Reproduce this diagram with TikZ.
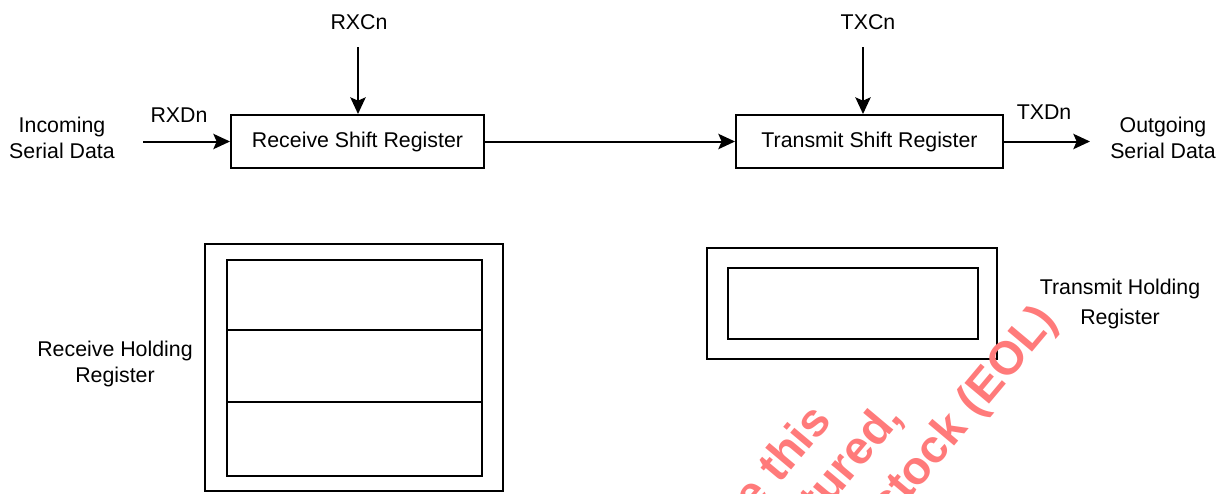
\documentclass[tikz,border=0pt]{standalone}
\usepackage{fontspec}
\setmainfont{Liberation Sans}
\usetikzlibrary{arrows.meta}
\definecolor{wm}{RGB}{255,122,122}
\tikzset{
  box/.style={draw, line width=1.5pt, inner sep=0pt, font=\fontsize{16}{20}\selectfont},
  lbl/.style={inner sep=0pt, align=center, font=\fontsize{16}{20}\selectfont},
  arr/.style={line width=1.5pt, -{Stealth[length=12.5pt,width=11.5pt,inset=2.5pt]}},
  reg/.style={draw, line width=1.5pt},
  wmark/.style={inner sep=0pt, anchor=base east, rotate=50, text=wm, font=\fontsize{35}{40}\selectfont\bfseries}
}
\begin{document}
\begin{tikzpicture}[x=0.75pt,y=-0.75pt]
\useasboundingbox (0,0) rectangle (1223,493);
% shift registers
\node[box, minimum width=189.75pt, minimum height=39.75pt] (rsr) at (357.5,141.5) {Receive Shift Register};
\node[box, minimum width=200.25pt, minimum height=39.75pt] (tsr) at (869.5,141.5) {Transmit Shift Register};
% labels
\node[lbl] (incoming) at (62,138) {Incoming\\Serial Data};
\node[lbl] (outgoing) at (1163,138) {Outgoing\\Serial Data};
\node[lbl] (rxdn) at (179,115) {RXDn};
\node[lbl] (txdn) at (1044,112) {TXDn};
\node[lbl] (rxcn) at (359,22) {RXCn};
\node[lbl] (txcn) at (868,22) {TXCn};
\node[lbl] (rhrl) at (115,364) {Receive Holding\\Register};
\node[lbl, font=\fontsize{16}{23}\selectfont] (thrl) at (1120,304) {Transmit Holding\\Register};
% connectors
\coordinate (rxin) at (143,141.5);
\coordinate (txout) at (1090,141.5);
\coordinate (rxclk) at (358,47);
\coordinate (txclk) at (863,47);
\draw[arr] (rxin) -- (rsr.west);
\draw[arr] (rsr.east) -- (tsr.west);
\draw[arr] (tsr.east) -- (txout);
\draw[arr] (rxclk) -- (rxclk |- rsr.north);
\draw[arr] (txclk) -- (txclk |- tsr.north);
% receive holding register
\draw[reg] (205,244) rectangle (503,491);
\draw[reg] (227,260) rectangle (482,476);
\draw[reg] (227,330) -- (482,330);
\draw[reg] (227,402) -- (482,402);
% transmit holding register
\draw[reg] (707,248) rectangle (997,359);
\draw[reg] (728,268) rectangle (978,339);
% watermark fragments
\begin{scope}
\clip (0,0) rectangle (1223,493);
\node[wmark] (wm1) at (833,421) {e this};
\node[wmark] (wm2) at (904,418) {ctured,};
\node[wmark] (wm3) at (1059,321) {stock (EOL)};
\end{scope}
\end{tikzpicture}
\end{document}
